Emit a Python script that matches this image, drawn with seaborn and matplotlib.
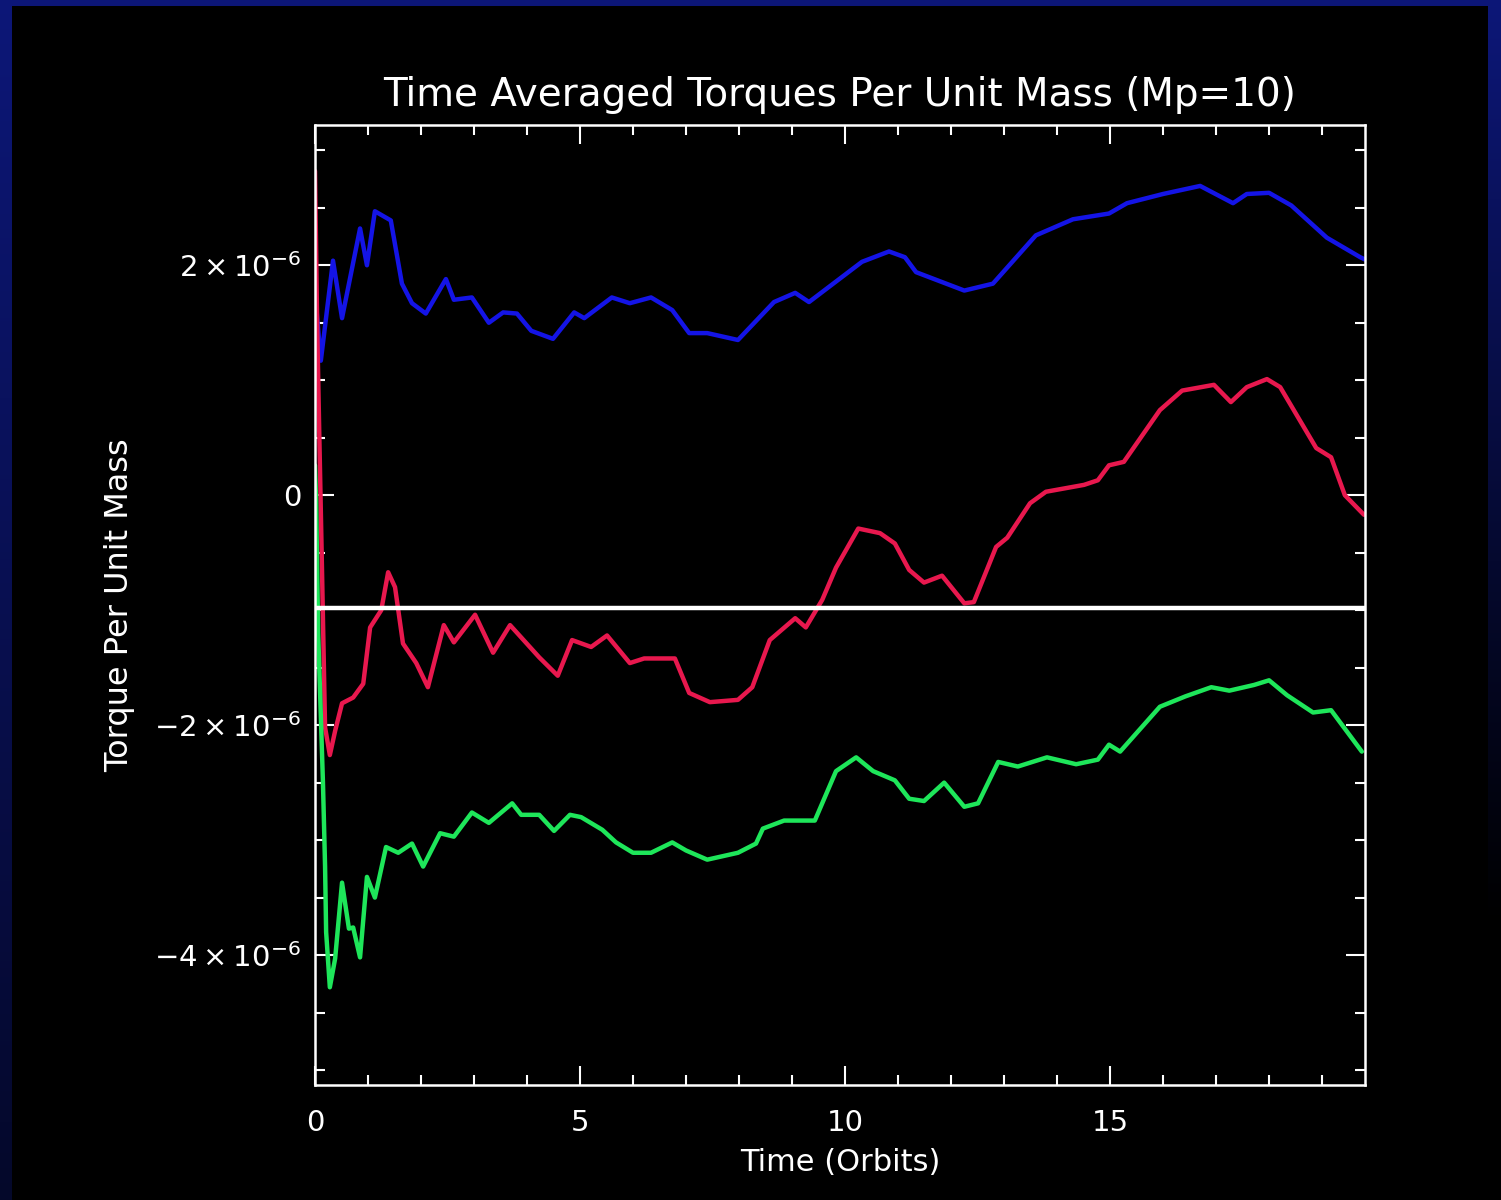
import numpy as np
import pandas as pd
import matplotlib
matplotlib.use("Agg")
import matplotlib.pyplot as plt
import seaborn as sns
from matplotlib.ticker import MultipleLocator

# Torque curves (time in orbits, torque in units of 1e-6)
blue_t = [0.0, 0.04, 0.11, 0.34, 0.51, 0.85, 0.98, 1.13, 1.43, 1.64, 1.83, 2.09, 2.47, 2.62,
          2.96, 3.28, 3.55, 3.81, 4.08, 4.49, 4.89, 5.08, 5.60, 5.94, 6.34, 6.74, 7.06, 7.40,
          7.98, 8.66, 9.06, 9.32, 10.32, 10.83, 11.13, 11.34, 12.25, 12.79, 13.60, 14.30,
          14.98, 15.32, 16.00, 16.70, 17.32, 17.58, 18.00, 18.42, 19.09, 19.72, 19.81]
blue_v = [1.80, 1.55, 1.17, 2.04, 1.54, 2.32, 2.00, 2.47, 2.39, 1.84, 1.67, 1.58, 1.88, 1.70,
          1.72, 1.50, 1.59, 1.58, 1.43, 1.36, 1.59, 1.54, 1.72, 1.67, 1.72, 1.61, 1.41, 1.41,
          1.35, 1.68, 1.76, 1.68, 2.03, 2.12, 2.07, 1.94, 1.78, 1.84, 2.26, 2.40,
          2.45, 2.54, 2.62, 2.69, 2.54, 2.62, 2.63, 2.52, 2.24, 2.07, 2.05]

red_t = [0.0, 0.04, 0.08, 0.13, 0.19, 0.28, 0.38, 0.51, 0.72, 0.91, 1.04, 1.25, 1.38, 1.51,
         1.66, 1.91, 2.13, 2.43, 2.62, 3.02, 3.36, 3.68, 4.23, 4.58, 4.85, 5.21, 5.51, 5.94,
         6.21, 6.79, 7.06, 7.45, 7.98, 8.25, 8.58, 9.06, 9.26, 9.57, 9.83, 10.25, 10.66,
         10.94, 11.21, 11.49, 11.83, 12.25, 12.43, 12.85, 13.06, 13.49, 13.79, 14.51, 14.77,
         14.98, 15.26, 15.94, 16.36, 16.96, 17.28, 17.58, 17.96, 18.21, 18.89, 19.17, 19.43,
         19.79]
red_v = [2.82, 1.50, 0.55, -0.60, -2.02, -2.26, -2.05, -1.81, -1.76, -1.64, -1.15, -1.00,
         -0.67, -0.80, -1.29, -1.46, -1.67, -1.13, -1.28, -1.04, -1.37, -1.13, -1.41, -1.57,
         -1.26, -1.32, -1.22, -1.46, -1.42, -1.42, -1.72, -1.80, -1.78, -1.67, -1.26, -1.07,
         -1.15, -0.91, -0.63, -0.29, -0.33, -0.42, -0.65, -0.76, -0.70, -0.94, -0.93, -0.45,
         -0.37, -0.07, 0.03, 0.09, 0.13, 0.26, 0.29, 0.74, 0.91, 0.96, 0.81, 0.94, 1.01,
         0.94, 0.41, 0.33, 0.00, -0.17]

green_t = [0.0, 0.02, 0.06, 0.15, 0.19, 0.21, 0.28, 0.38, 0.51, 0.64, 0.72, 0.85, 0.98, 1.13,
           1.34, 1.57, 1.83, 2.04, 2.36, 2.62, 2.96, 3.28, 3.72, 3.89, 4.23, 4.51, 4.81, 5.02,
           5.42, 5.68, 6.00, 6.34, 6.74, 7.00, 7.40, 7.98, 8.32, 8.45, 8.85, 9.43, 9.83,
           10.21, 10.53, 10.94, 11.21, 11.49, 11.87, 12.25, 12.51, 12.89, 13.26, 13.81, 14.36,
           14.77, 14.98, 15.19, 15.94, 16.42, 16.91, 17.25, 17.72, 18.00, 18.34, 18.83, 19.17,
           19.75]
green_v = [0.26, -0.04, -1.20, -2.50, -3.23, -3.80, -4.28, -4.03, -3.37, -3.77, -3.76, -4.02,
           -3.32, -3.50, -3.06, -3.11, -3.03, -3.23, -2.94, -2.97, -2.76, -2.85, -2.68, -2.78,
           -2.78, -2.92, -2.78, -2.80, -2.91, -3.02, -3.11, -3.11, -3.02, -3.09, -3.17, -3.11,
           -3.03, -2.90, -2.83, -2.83, -2.40, -2.28, -2.40, -2.48, -2.64, -2.66, -2.50, -2.71,
           -2.68, -2.32, -2.36, -2.28, -2.34, -2.30, -2.17, -2.23, -1.84, -1.75, -1.67, -1.70,
           -1.65, -1.61, -1.74, -1.89, -1.87, -2.23]

ref_t = [0.0, 19.81]
ref_v = [-0.98, -0.98]

ytick_vals = [-4, -2, 0, 2]
ytick_labels = [r"$-4\times10^{-6}$", r"$-2\times10^{-6}$", "0", r"$2\times10^{-6}$"]
xtick_vals = [0, 5, 10, 15]

sns.set_style("dark")
plt.rcParams["font.family"] = ["DejaVu Sans"]
plt.rcParams["mathtext.fontset"] = "dejavusans"

fig = plt.figure(figsize=(15.01, 12), dpi=100, facecolor="black")

# dark blue slide frame on the left, top and upper right
bg = fig.add_axes([0, 0, 1, 1], zorder=-5)
H, W = 1200, 1501
img = np.zeros((H, W, 3))
fade = np.linspace(1.0, 0.35, H)[:, None]
blue = np.array([0.05, 0.09, 0.47])
img[:, :12, :] = blue * fade[:, :, None].repeat(12, axis=1)
img[:6, :, :] = blue
rfade = np.clip(np.linspace(1.0, -0.3, H), 0, 1)[:, None]
img[:, 1488:, :] = blue * rfade[:, :, None].repeat(W - 1488, axis=1)
bg.imshow(img, aspect="auto", extent=[0, 1, 0, 1])
bg.set_axis_off()

ax = fig.add_axes([315 / 1501, 1 - 1085 / 1200, 1050 / 1501, 960 / 1200])
ax.set_facecolor("black")

for t, v, c in [(blue_t, blue_v, "#1414e6"), (red_t, red_v, "#e8184e"),
                (green_t, green_v, "#1ee65a"), (ref_t, ref_v, "white")]:
    df = pd.DataFrame({"t": t, "v": np.array(v) * 1e-6})
    sns.lineplot(data=df, x="t", y="v", ax=ax, color=c, linewidth=3.2,
                 estimator=None, sort=False)

ax.set_xlim(0, 19.81)
ax.set_ylim(-5.13e-6, 3.22e-6)

ax.set_xticks(xtick_vals)
ax.set_xticklabels([str(v) for v in xtick_vals])
ax.xaxis.set_minor_locator(MultipleLocator(1))
ax.set_yticks([v * 1e-6 for v in ytick_vals])
ax.set_yticklabels(ytick_labels)
ax.yaxis.set_minor_locator(MultipleLocator(0.5e-6))

ax.tick_params(which="both", direction="in", colors="white", top=True, right=True,
               bottom=True, left=True, width=1.5)
ax.tick_params(which="major", length=14, labelsize=21)
ax.tick_params(which="minor", length=7.5)
ax.tick_params(axis="x", which="major", pad=17)
ax.tick_params(axis="y", which="major", pad=10)
ax.grid(False)
for s in ax.spines.values():
    s.set_visible(True)
    s.set_color("white")
    s.set_linewidth(1.8)

ax.set_xlabel("Time (Orbits)", color="white", fontsize=22, labelpad=8)
ax.set_ylabel("Torque Per Unit Mass", color="white", fontsize=23, labelpad=14)
ax.set_title("Time Averaged Torques Per Unit Mass (Mp=10)", color="white",
             fontsize=28, pad=14)

fig.savefig("out.png", dpi=100, facecolor=fig.get_facecolor())
